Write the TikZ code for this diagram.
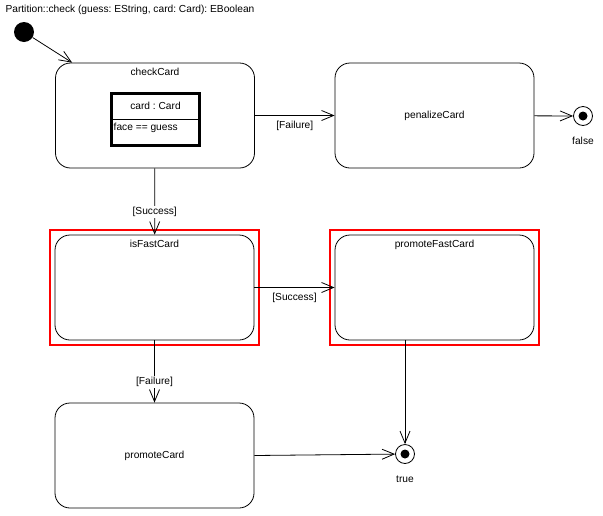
\documentclass[tikz,border=0pt]{standalone}
\usepackage{fontspec}
\setmainfont{Liberation Sans}
\usetikzlibrary{arrows.meta,fit}
\frenchspacing

\begin{document}
\begin{tikzpicture}[x=1pt,y=-1pt,
	font=\fontsize{10.2}{12}\selectfont,
	state/.style={draw, line width=0.8pt, rounded corners=15pt, minimum width=199pt, minimum height=105pt},
	titled/.style={label={[anchor=north, yshift=-2pt]north:#1}},
	trans/.style={draw, line width=0.8pt, -{Straight Barb[length=12pt,width=10pt]}},
	guard/.style={fill=white, inner sep=1pt},
	final/.style={draw, circle, line width=0.8pt, minimum size=19pt, inner sep=0pt},
	hilite/.style={draw=red, line width=2pt, inner sep=5pt}]%[show background grid]

	\useasboundingbox (0,0) rectangle (603,515);

	\node[anchor=west] (title) at (2,10) {Partition::check (guess: EString, card: Card): EBoolean};

	\node[circle, fill, minimum size=20pt, inner sep=0pt] (init) at (24,32) {};

	\node[state, titled=checkCard] (checkCard) at (155,115.5) {};
	\node[state] (penalizeCard) at (434.5,115.5) {penalizeCard};
	\node[state, titled=isFastCard] (isFastCard) at (154.5,287.5) {};
	\node[state, titled=promoteFastCard] (promoteFastCard) at (434.5,287.5) {};
	\node[state] (promoteCard) at (154.5,455.5) {promoteCard};

	\node[hilite, fit=(isFastCard)] (fastBox) {};
	\node[hilite, fit=(promoteFastCard)] (promoteBox) {};

	% object inside checkCard
	\node[draw, line width=3pt, minimum width=88pt, minimum height=52pt, inner sep=0pt] (cardObj) at (155.5,119.5) {};
	\draw[line width=0.8pt] (cardObj.west) -- (cardObj.east);
	\node (cardName) at (155.5,106) {card : Card};
	\node[anchor=west, inner sep=0pt] (cardCond) at ([xshift=3.5pt]cardObj.west |- 0,128) {face == guess};

	\node[final, label={[label distance=8pt]below:false}] (false) at (583,116) {};
	\fill (false.center) circle (4.5);
	\node[final, label={[label distance=8pt]below:true}] (true) at (405,454) {};
	\fill (true.center) circle (4.5);

	\draw[trans] (init) -- ([xshift=17pt]checkCard.north west);
	\draw[trans] (checkCard) -- node[below, pos=0.5, inner sep=5pt] {[Failure]} (penalizeCard);
	\draw[trans] (penalizeCard) -- (false);
	\draw[trans] (checkCard) -- node[guard, pos=0.66] {[Success]} (isFastCard);
	\draw[trans] (isFastCard) -- node[below, pos=0.5, inner sep=5pt] {[Success]} (promoteFastCard);
	\draw[trans] (isFastCard) -- node[guard, pos=0.67] {[Failure]} (promoteCard);
	\draw[trans] (promoteCard.east) -- (true);
	\draw[trans] (promoteFastCard.south -| true) -- (true);

\end{tikzpicture}
\end{document}
